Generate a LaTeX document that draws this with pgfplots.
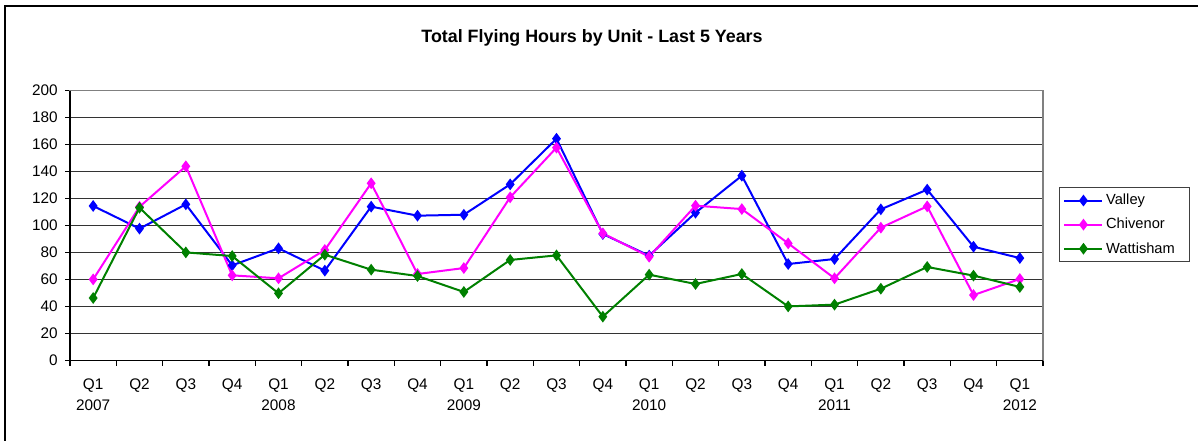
\documentclass[border=0pt]{standalone}
\usepackage{fontspec}
\setmainfont{Liberation Sans}
\usepackage{pgfplots}
\pgfplotsset{compat=1.18}
\definecolor{valley}{RGB}{0,0,255}
\definecolor{chiv}{RGB}{255,0,255}
\definecolor{watt}{RGB}{0,128,0}
\begin{document}
\begin{tikzpicture}
\useasboundingbox (0,0) rectangle (898.5pt,-330.75pt);
\draw[line width=1.1pt] (3.75pt,-400pt) -- (3.75pt,-4.5pt) -- (950pt,-4.5pt);
\node[font=\bfseries\fontsize{13.4}{16}\selectfont] at (444pt,-28.5pt) {Total Flying Hours by Unit - Last 5 Years};
\begin{axis}[
  at={(52.5pt,-270.5pt)}, anchor=south west,
  scale only axis, width=729.75pt, height=202.5pt,
  xmin=-0.5, xmax=20.5, ymin=0, ymax=200,
  ytick={0,20,...,200},
  xtick={0,...,20},
  xticklabels={{Q1\\2007},Q2,Q3,Q4,{Q1\\2008},Q2,Q3,Q4,{Q1\\2009},Q2,Q3,Q4,{Q1\\2010},Q2,Q3,Q4,{Q1\\2011},Q2,Q3,Q4,{Q1\\2012}},
  minor xtick={-0.5,0.5,...,20.5},
  xtick pos=bottom, ytick pos=left,
  tick align=outside,
  major tick length=3.75pt, minor tick length=3.75pt,
  major x tick style={draw=none},
  tick style={black, line width=0.9pt},
  ymajorgrids,
  grid style={black!80, line width=0.75pt},
  axis line style={black!50, line width=1.1pt},
  /pgf/number format/assume math mode=true,
  ticklabel style={font=\fontsize{11.5}{15.75}\selectfont},
  xticklabel style={align=center, anchor=north, yshift=-6pt},
  yticklabel style={xshift=-2pt},
  legend style={at={(rel axis cs:1.0164,0.643)}, anchor=north west,
    font=\fontsize{11}{13}\selectfont, draw=black!75, line width=0.75pt,
    inner xsep=3pt, inner ysep=3pt, row sep=4.6pt},
  legend cell align=left,
  legend image code/.code={\draw[mark repeat=2,mark phase=2,#1] plot coordinates {(0pt,0pt) (14.25pt,0pt) (28.5pt,0pt)};},
  every axis plot/.append style={line width=1.5pt, mark=diamond*, mark size=3.2pt, mark options={solid}},
  after end axis/.code={\draw[black, line width=1.1pt] (rel axis cs:0,1) -- (rel axis cs:0,0) -- (rel axis cs:1,0);},
]
\addplot[valley] coordinates {
 (0,114.6) (1,97.8) (2,115.8) (3,70.6) (4,83.2) (5,66.7) (6,114.1) (7,107.4) (8,108.1) (9,130.6) (10,164.4)
 (11,93.8) (12,77.8) (13,109.6) (14,137.0) (15,71.6) (16,75.3) (17,112.1) (18,126.7) (19,84.4) (20,76.0)};
\addplot[chiv] coordinates {
 (0,60.2) (1,114.0) (2,144.0) (3,63.2) (4,61.0) (5,82.0) (6,131.4) (7,64.2) (8,68.6) (9,121.0) (10,157.8)
 (11,94.3) (12,77.0) (13,114.8) (14,112.3) (15,86.9) (16,61.0) (17,98.5) (18,114.3) (19,48.6) (20,60.5)};
\addplot[watt] coordinates {
 (0,46.4) (1,113.3) (2,80.2) (3,77.5) (4,49.9) (5,78.5) (6,67.4) (7,62.7) (8,50.9) (9,74.6) (10,78.0)
 (11,32.6) (12,63.7) (13,56.8) (14,64.2) (15,40.2) (16,41.5) (17,53.3) (18,69.4) (19,63.0) (20,54.6)};
\legend{Valley, Chivenor, Wattisham\hspace*{6pt}}
\end{axis}
\end{tikzpicture}
\end{document}
